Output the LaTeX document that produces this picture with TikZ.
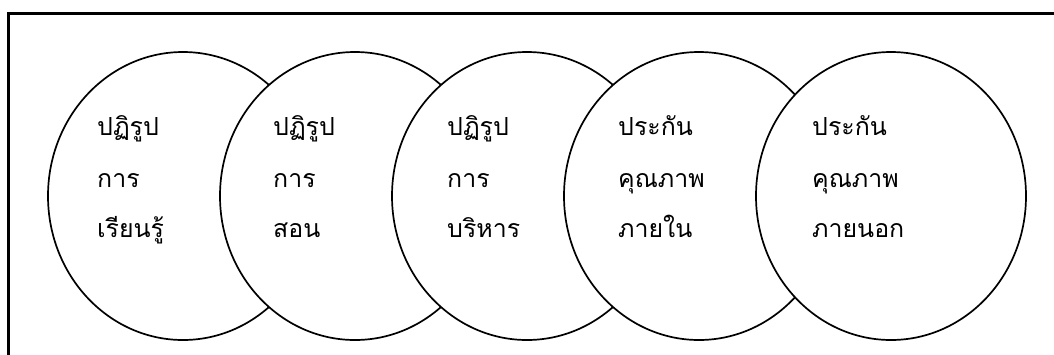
\documentclass[tikz,border=0pt]{standalone}
\usepackage{fontspec}
\newfontfamily\thaifont[Script=Thai]{Loma}
\usetikzlibrary{shapes.geometric}
\tikzset{
  bubble/.style={ellipse, draw, fill=white, line width=1.7bp, inner sep=0pt, minimum width=270bp, minimum height=288bp},
  label/.style={anchor=base west, inner sep=0pt, font=\thaifont\fontsize{25}{30}\selectfont},
  frame/.style={line width=2.2bp}
}
\begin{document}
\begin{tikzpicture}[x=1bp,y=-1bp]
\useasboundingbox (0,0) rectangle (1054,354);
\fill[white] (0,0) rectangle (1054,354);
\draw[frame] (8.5,360) -- (8.5,13.5) -- (1060,13.5);
\foreach \i/\cx in {1/183,2/355,3/527,4/699,5/891}{
  \node[bubble] (e\i) at (\cx,196) {};
}
\node[label] (t11) at (97,135) {ปฏิรูป};
\node[label] (t12) at (97,187) {การ};
\node[label] (t13) at (97,237) {เรียนรู้};
\node[label] (t21) at (273,135) {ปฏิรูป};
\node[label] (t22) at (273,187) {การ};
\node[label] (t23) at (273,237) {สอน};
\node[label] (t31) at (447,135) {ปฏิรูป};
\node[label] (t32) at (447,187) {การ};
\node[label] (t33) at (447,237) {บริหาร};
\node[label] (t41) at (618,135) {ประกัน};
\node[label] (t42) at (618,187) {คุณภาพ};
\node[label] (t43) at (618,237) {ภายใน};
\node[label] (t51) at (812,135) {ประกัน};
\node[label] (t52) at (812,187) {คุณภาพ};
\node[label] (t53) at (812,237) {ภายนอก};
\end{tikzpicture}
\end{document}
